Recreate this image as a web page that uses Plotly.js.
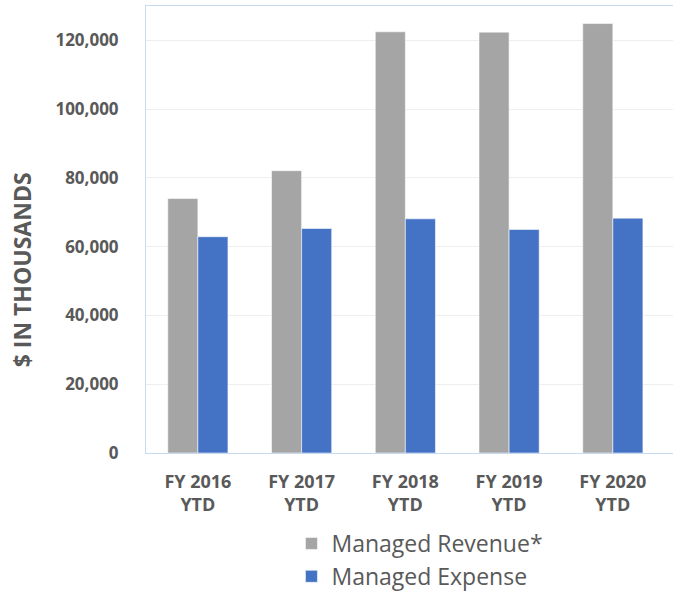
<!DOCTYPE html>
<html>
<head>
<meta charset="utf-8">
<script src="https://cdn.plot.ly/plotly-3.0.1.min.js"></script>
<style>html,body{margin:0;padding:0;background:#fff;overflow:hidden;}#chart{width:673px;height:593px;}</style>
</head>
<body>
<div id="chart"></div>
<script>
const categories = ["FY 2016<br>YTD", "FY 2017<br>YTD", "FY 2018<br>YTD", "FY 2019<br>YTD", "FY 2020<br>YTD"];
const revenueName = "Managed Revenue*";
const expenseName = "Managed Expense";
const revenue = [74000, 82100, 122500, 122400, 124900];
const expense = [62900, 65300, 68100, 65000, 68300];
const yTickVals = [0, 20000, 40000, 60000, 80000, 100000, 120000];
const yTickText = ["0", "20,000", "40,000", "60,000", "80,000", "100,000", "120,000"];
const yTitle = "$ IN THOUSANDS";

const textColor = "#595959";
const traces = [
  {type: "bar", name: revenueName, x: categories, y: revenue,
   marker: {color: "#A5A5A5", line: {color: "rgba(255,255,255,0.55)", width: 1}}, hoverinfo: "y"},
  {type: "bar", name: expenseName, x: categories, y: expense,
   marker: {color: "#4472C4", line: {color: "rgba(255,255,255,0.55)", width: 1}}, hoverinfo: "y"}
];
const layout = {
  width: 673, height: 593,
  margin: {l: 145.5, r: 0, t: 6, b: 139.5},
  paper_bgcolor: "#ffffff", plot_bgcolor: "#ffffff",
  barmode: "group", bargap: 0.42, bargroupgap: 0,
  font: {family: "Open Sans, sans-serif", color: textColor},
  xaxis: {
    type: "category", range: [-0.5, 4.58],
    showline: true, mirror: true, linecolor: "#C6DAF2", linewidth: 1,
    showgrid: false, zeroline: false, ticks: "",
    tickfont: {size: 18, weight: "bold", color: textColor},
    ticklabelstandoff: 12, fixedrange: true
  },
  yaxis: {
    range: [0, 130000], tickvals: yTickVals, ticktext: yTickText,
    showline: true, linecolor: "#C6DAF2", linewidth: 1,
    showgrid: true, gridcolor: "#EEEEEE", gridwidth: 1, zeroline: false, ticks: "",
    tickfont: {size: 17, weight: "bold", color: textColor},
    ticklabelstandoff: 23,
    fixedrange: true
  },
  annotations: [{
    text: yTitle, xref: "paper", yref: "paper", x: -0.236, y: 0.41,
    xanchor: "center", yanchor: "middle", textangle: -90, showarrow: false,
    font: {size: 23, weight: "bold", color: textColor}
  }],
  legend: {
    x: 0.276, xanchor: "left", xref: "paper",
    y: 0.1198, yanchor: "top", yref: "container",
    orientation: "v", font: {size: 23, color: textColor},
    bgcolor: "rgba(0,0,0,0)"
  },
  showlegend: true
};
Plotly.newPlot("chart", traces, layout, {displayModeBar: false, staticPlot: true});
</script>
</body>
</html>
